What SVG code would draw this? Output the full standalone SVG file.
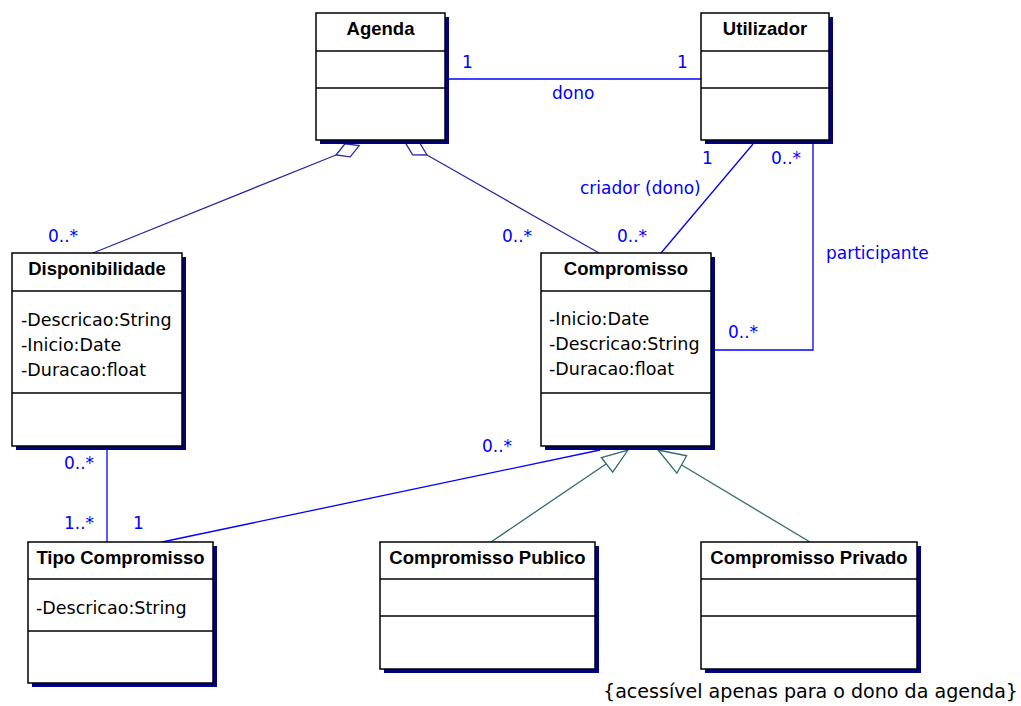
<svg xmlns="http://www.w3.org/2000/svg" width="1021" height="706" viewBox="0 0 1021 706">
<style>
.box{fill:#fff;stroke:#000;stroke-width:1.5}
.shd{fill:#000080}
.div{stroke:#000;stroke-width:1.5}
.ttl{font-family:"Liberation Sans",Arial,sans-serif;font-weight:bold;font-size:18.5px;fill:#000;text-anchor:middle}
.att{font-family:"DejaVu Sans",Verdana,sans-serif;font-size:17.5px;fill:#000}
.lbl{font-family:"DejaVu Sans",Verdana,sans-serif;font-size:17px;fill:#0000ff}
.asc{stroke:#0000ff;stroke-width:1.3;fill:none}
.agg{stroke:#2b2b9e;stroke-width:1.3;fill:#fff}
.gen{stroke:#2e6b6b;stroke-width:1.3;fill:#fff}
.note{font-family:"DejaVu Sans",Verdana,sans-serif;font-size:19px;fill:#000}
</style>
<rect width="1021" height="706" fill="#fff"/>
<g id="connectors">
  <line class="asc" x1="449" y1="79" x2="701" y2="79"/>
  <line class="agg" x1="336" y1="155" x2="93" y2="253"/>
  <polygon class="agg" points="359.2,145.6 350.2,156.8 336,155 345,143.8"/>
  <line class="agg" x1="427" y1="155" x2="599" y2="253"/>
  <polygon class="agg" points="405.3,142.6 412.6,154.9 427,155 419.6,142.7"/>
  <line class="asc" x1="753" y1="144" x2="661" y2="253"/>
  <polyline class="asc" points="813,144 813,350 715,350"/>
  <line class="asc" x1="107" y1="450" x2="107" y2="542"/>
  <line class="asc" x1="162" y1="542" x2="600" y2="450"/>
  <line class="gen" x1="491" y1="542" x2="606" y2="464"/>
  <polygon class="gen" points="628,450 612.7,472.1 601.3,457.5"/>
  <line class="gen" x1="810" y1="542" x2="680" y2="464"/>
  <polygon class="gen" points="658,450 686.6,455.8 676.9,473.2"/>
</g>
<g id="labels">
  <text class="lbl" x="462" y="68">1</text>
  <text class="lbl" x="677" y="68">1</text>
  <text class="lbl" x="552" y="99">dono</text>
  <text class="lbl" x="702" y="164">1</text>
  <text class="lbl" x="771" y="164">0..*</text>
  <text class="lbl" x="580" y="194">criador (dono)</text>
  <text class="lbl" x="617" y="242">0..*</text>
  <text class="lbl" x="502" y="242">0..*</text>
  <text class="lbl" x="48" y="242">0..*</text>
  <text class="lbl" x="826" y="259">participante</text>
  <text class="lbl" x="728" y="338">0..*</text>
  <text class="lbl" x="64" y="469">0..*</text>
  <text class="lbl" x="64" y="529">1..*</text>
  <text class="lbl" x="133" y="529">1</text>
  <text class="lbl" x="482" y="452">0..*</text>
</g>
<g id="agenda">
  <rect class="shd" x="320" y="17" width="129" height="127"/>
  <rect class="box" x="316" y="13" width="129" height="127"/>
  <line class="div" x1="316" y1="51" x2="445" y2="51"/>
  <line class="div" x1="316" y1="88" x2="445" y2="88"/>
  <text class="ttl" x="380.5" y="35">Agenda</text>
</g>
<g id="utilizador">
  <rect class="shd" x="705" y="17" width="128" height="127"/>
  <rect class="box" x="701" y="13" width="128" height="127"/>
  <line class="div" x1="701" y1="51" x2="829" y2="51"/>
  <line class="div" x1="701" y1="88" x2="829" y2="88"/>
  <text class="ttl" x="765" y="35">Utilizador</text>
</g>
<g id="disponibilidade">
  <rect class="shd" x="16" y="257" width="170" height="193"/>
  <rect class="box" x="12" y="253" width="170" height="193"/>
  <line class="div" x1="12" y1="291" x2="182" y2="291"/>
  <line class="div" x1="12" y1="393" x2="182" y2="393"/>
  <text class="ttl" x="97" y="275">Disponibilidade</text>
  <text class="att" x="21" y="326">-Descricao:String</text>
  <text class="att" x="21" y="351">-Inicio:Date</text>
  <text class="att" x="21" y="376">-Duracao:float</text>
</g>
<g id="compromisso">
  <rect class="shd" x="545" y="257" width="170" height="193"/>
  <rect class="box" x="541" y="253" width="170" height="193"/>
  <line class="div" x1="541" y1="291" x2="711" y2="291"/>
  <line class="div" x1="541" y1="393" x2="711" y2="393"/>
  <text class="ttl" x="626" y="275">Compromisso</text>
  <text class="att" x="549" y="325">-Inicio:Date</text>
  <text class="att" x="549" y="350">-Descricao:String</text>
  <text class="att" x="549" y="375">-Duracao:float</text>
</g>
<g id="tipo-compromisso">
  <rect class="shd" x="32" y="546" width="185" height="141"/>
  <rect class="box" x="28" y="542" width="185" height="141"/>
  <line class="div" x1="28" y1="579" x2="213" y2="579"/>
  <line class="div" x1="28" y1="631" x2="213" y2="631"/>
  <text class="ttl" x="120.5" y="564">Tipo Compromisso</text>
  <text class="att" x="36" y="614">-Descricao:String</text>
</g>
<g id="compromisso-publico">
  <rect class="shd" x="384" y="546" width="215" height="127"/>
  <rect class="box" x="380" y="542" width="215" height="127"/>
  <line class="div" x1="380" y1="579" x2="595" y2="579"/>
  <line class="div" x1="380" y1="616" x2="595" y2="616"/>
  <text class="ttl" x="487.5" y="564">Compromisso Publico</text>
</g>
<g id="compromisso-privado">
  <rect class="shd" x="705" y="546" width="216" height="127"/>
  <rect class="box" x="701" y="542" width="216" height="127"/>
  <line class="div" x1="701" y1="579" x2="917" y2="579"/>
  <line class="div" x1="701" y1="616" x2="917" y2="616"/>
  <text class="ttl" x="809" y="564">Compromisso Privado</text>
</g>
<text class="note" x="603" y="698" textLength="415" lengthAdjust="spacingAndGlyphs">{acessível apenas para o dono da agenda}</text>
</svg>
